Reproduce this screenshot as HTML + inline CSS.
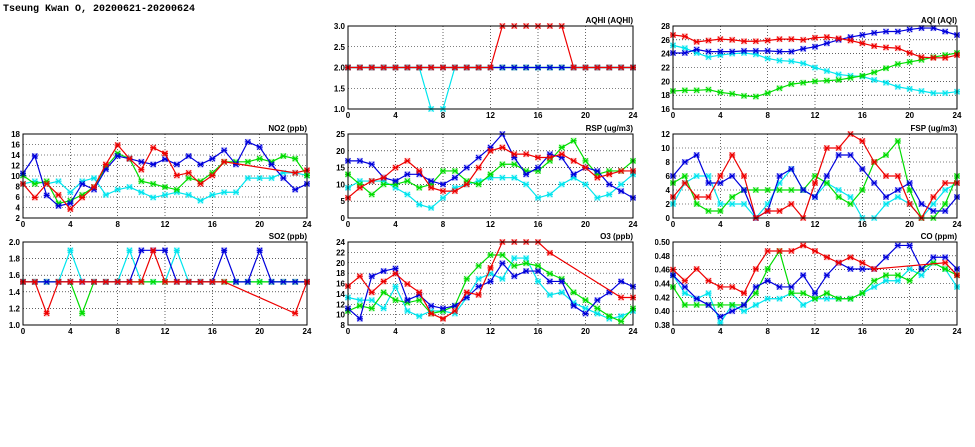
<!DOCTYPE html>
<html><head><meta charset="utf-8"><style>
html,body{margin:0;padding:0;background:#fff;width:975px;height:447px;overflow:hidden}
svg{display:block}
text{font-family:"Liberation Sans",sans-serif;font-weight:bold;font-size:8px;fill:#000}
</style></head><body>
<svg id="c" width="975" height="447" viewBox="0 0 975 447" xmlns="http://www.w3.org/2000/svg">
<defs><clipPath id="coclip"><rect x="655" y="0" width="320" height="447"/></clipPath></defs>
<text x="3" y="11" style="font-family:'Liberation Mono',monospace;font-size:10px">Tseung Kwan O, 20200621-20200624</text>
</svg>
<script>
const hours=[0,1,2,3,4,5,6,7,8,9,10,11,12,13,14,15,16,17,18,19,20,21,22,23,24];
const xTicks=[0,4,8,12,16,20,24];
const seriesColors=['#00e5ee','#00dd00','#0000dd','#ee0000'];
const N=null;
// AQHI
const aqhiCyan=[2,2,2,2,2,2,2,1,1,2,2,2,2,2,2,2,2,2,2,2,2,2,2,2,2];
const aqhiGreen=[2,2,2,2,2,2,2,2,2,2,2,2,2,2,2,2,2,2,2,2,2,2,2,2,2];
const aqhiBlue=[2,2,2,2,2,2,2,2,2,2,2,2,2,2,2,2,2,2,2,2,2,2,2,2,2];
const aqhiRed=[2,2,2,2,2,2,2,2,2,2,2,2,2,3,3,3,3,3,3,2,2,2,2,2,2];
const aqhiTicks=['1.0','1.5','2.0','2.5','3.0'];
// AQI
const aqiCyan=[25.2,24.8,24.1,23.5,23.8,24.0,24.1,23.9,23.3,23.0,22.9,22.6,22.0,21.5,21.0,20.8,20.7,20.2,19.8,19.2,18.9,18.6,18.3,18.3,18.5];
const aqiGreen=[18.6,18.7,18.7,18.8,18.4,18.2,17.9,17.8,18.3,19.0,19.6,19.8,20.0,20.1,20.2,20.5,20.8,21.3,21.9,22.5,22.8,23.1,23.5,23.8,24.1];
const aqiBlue=[24.1,24.1,24.6,24.3,24.3,24.3,24.4,24.4,24.4,24.3,24.3,24.7,25.0,25.5,26.0,26.4,26.7,27.0,27.2,27.2,27.5,27.7,27.7,27.2,26.7];
const aqiRed=[26.7,26.5,25.7,25.9,26.1,26.0,25.8,25.8,25.9,26.1,26.1,26.0,26.3,26.4,26.2,25.9,25.5,25.1,24.9,24.8,24.1,23.5,23.4,23.4,23.8];
const aqiTicks=['16','18','20','22','24','26','28'];
// NO2
const no2Cyan=[8.5,9.0,8.5,9.0,6.9,9.0,9.6,6.4,7.4,7.9,6.9,5.9,6.4,6.9,6.4,5.3,6.4,6.9,6.9,9.6,9.6,9.6,10.6,10.6,10.1];
const no2Green=[10.1,8.5,9.0,4.8,5.3,6.4,7.9,11.7,14.3,13.3,9.0,8.5,7.9,7.4,9.6,9.0,10.6,12.7,12.7,12.7,13.3,12.7,13.8,13.3,10.1];
const no2Blue=[10.5,13.8,6.3,4.3,4.8,8.5,7.4,11.3,13.8,13.3,12.7,12.2,13.2,12.2,13.8,12.2,13.3,14.9,12.2,16.5,15.5,12.2,9.6,7.4,8.5];
const no2Red=[8.5,5.9,8.5,6.4,3.7,5.9,7.9,12.2,15.9,13.3,11.2,15.4,14.3,10.1,10.6,8.5,10.1,12.7,N,N,N,N,N,10.6,11.1];
const no2Ticks=['2','4','6','8','10','12','14','16','18'];
// RSP
const rspCyan=[9,11,11,11,9,7,4,3,6,9,10,11,12,12,12,10,6,7,10,12,10,6,7,10,13];
const rspGreen=[13,10,7,10,10,11,9,10,14,14,11,10,13,16,16,14,14,17,21,23,17,13,14,14,17];
const rspBlue=[17,17,16,12,11,13,13,11,10,12,15,18,21,25,18,13,15,19,18,13,15,14,10,8,6];
const rspRed=[6,9,11,12,15,17,14,9,8,8,10,15,20,21,19,19,18,18,19,17,15,12,13,14,14];
const rspTicks=['0','5','10','15','20','25'];
// FSP
const fspCyan=[2,5,6,6,2,2,2,0,2,5,7,4,3,5,4,3,0,0,2,3,2,0,2,4,5];
const fspGreen=[5,6,2,1,1,3,4,4,4,4,4,4,6,5,3,2,4,8,9,11,4,0,0,2,6];
const fspBlue=[6,8,9,5,5,6,4,0,1,6,7,4,3,6,9,9,7,5,3,4,5,2,1,1,3];
const fspRed=[3,5,3,3,6,9,6,0,1,1,2,0,5,10,10,12,11,8,6,6,2,0,3,5,5];
const fspTicks=['0','2','4','6','8','10','12'];
// SO2
const so2Cyan=[1.52,1.52,1.52,1.52,1.9,1.52,1.52,1.52,1.52,1.9,1.52,1.52,1.52,1.9,1.52,1.52,1.52,1.52,1.52,1.52,1.52,1.52,1.52,1.52,1.52];
const so2Green=[1.52,1.52,1.52,1.52,1.52,1.14,1.52,1.52,1.52,1.52,1.52,1.52,1.52,1.52,1.52,1.52,1.52,1.52,1.52,1.52,1.52,1.52,1.52,1.52,1.52];
const so2Blue=[1.52,1.52,1.52,1.52,1.52,1.52,1.52,1.52,1.52,1.52,1.9,1.9,1.9,1.52,1.52,1.52,1.52,1.9,1.52,1.52,1.9,1.52,1.52,1.52,1.52];
const so2Red=[1.52,1.52,1.14,1.52,1.52,1.52,1.52,1.52,1.52,1.52,1.52,1.9,1.52,1.52,1.52,1.52,1.52,1.52,N,N,N,N,N,1.14,1.52];
const so2Ticks=['1.0','1.2','1.4','1.6','1.8','2.0'];
// O3
const o3Cyan=[13.3,12.8,12.8,11.2,15.4,10.7,9.7,10.7,10.7,10.2,13.3,16.9,17.9,16.9,20.9,20.9,16.4,13.8,14.3,12.3,11.2,10.2,9.2,9.7,10.7];
const o3Green=[10.7,11.7,11.2,14.3,12.8,12.3,12.8,10.2,10.7,11.7,16.9,19.4,21.5,21.5,19.4,19.9,19.4,17.9,16.9,14.3,12.8,11.2,9.7,8.7,11.2];
const o3Blue=[11.2,9.2,17.4,18.4,18.9,12.8,13.8,11.7,11.2,11.7,13.3,15.4,16.4,19.9,17.4,18.4,18.4,16.4,16.4,11.7,10.2,12.8,14.3,16.4,15.4];
const o3Red=[15.5,17.4,14.3,16.4,17.9,15.9,14.3,10.2,9.2,10.7,14.3,13.8,19.0,24,24,24,24,21.9,N,N,N,N,N,13.3,13.3];
const o3Ticks=['8','10','12','14','16','18','20','22','24'];
// CO
const coCyan=[.452,.426,.418,.426,.383,.409,.40,.409,.418,.418,.426,.409,.418,.418,.418,.418,.426,.435,.444,.444,.461,.452,.47,.461,.435];
const coGreen=[.435,.409,.409,.409,.409,.409,.409,.426,.461,.487,.426,.426,.418,.426,.418,.418,.426,.444,.452,.452,.444,.461,.47,.461,.452];
const coBlue=[.452,.435,.418,.409,.392,.40,.409,.435,.444,.435,.435,.452,.426,.452,.47,.461,.461,.461,.478,.495,.495,.461,.478,.478,.461];
const coRed=[.46,.444,.461,.444,.435,.435,.426,.461,.487,.487,.487,.495,.487,.478,.47,.478,.47,.461,N,N,N,N,N,.47,.452];
const coTicks=['0.38','0.40','0.42','0.44','0.46','0.48','0.50'];

const panels=[
 {name:'aqhi',title:'AQHI (AQHI)',x0:348,x1:633,y0:26,y1:109,ticks:aqhiTicks,s:[aqhiCyan,aqhiGreen,aqhiBlue,aqhiRed]},
 {name:'aqi',title:'AQI (AQI)',x0:673,x1:957,y0:26,y1:109,ticks:aqiTicks,s:[aqiCyan,aqiGreen,aqiBlue,aqiRed]},
 {name:'no2',title:'NO2 (ppb)',x0:23,x1:307,y0:134,y1:218,ticks:no2Ticks,s:[no2Cyan,no2Green,no2Blue,no2Red]},
 {name:'rsp',title:'RSP (ug/m3)',x0:348,x1:633,y0:134,y1:218,ticks:rspTicks,s:[rspCyan,rspGreen,rspBlue,rspRed]},
 {name:'fsp',title:'FSP (ug/m3)',x0:673,x1:957,y0:134,y1:218,ticks:fspTicks,s:[fspCyan,fspGreen,fspBlue,fspRed]},
 {name:'so2',title:'SO2 (ppb)',x0:23,x1:307,y0:242,y1:325,ticks:so2Ticks,s:[so2Cyan,so2Green,so2Blue,so2Red]},
 {name:'o3',title:'O3 (ppb)',x0:348,x1:633,y0:242,y1:325,ticks:o3Ticks,s:[o3Cyan,o3Green,o3Blue,o3Red]},
 {name:'co',title:'CO (ppm)',x0:673,x1:957,y0:242,y1:325,ticks:coTicks,s:[coCyan,coGreen,coBlue,coRed],clip:true}
];
const svg=document.getElementById('c');
const NS='http://www.w3.org/2000/svg';
function mk(tag,attrs,parent){const e=document.createElementNS(NS,tag);for(const k in attrs)e.setAttribute(k,attrs[k]);parent.appendChild(e);return e;}
panels.forEach(p=>{
 const g=mk('g',{},svg);
 
 
 if(p.clip)g.setAttribute('clip-path','url(#coclip)');
 const ymin=parseFloat(p.ticks[0]),ymax=parseFloat(p.ticks[p.ticks.length-1]);
 const sx=v=>p.x0+(v-hours[0])/(hours[hours.length-1]-hours[0])*(p.x1-p.x0);
 const sy=v=>p.y1-(v-ymin)/(ymax-ymin)*(p.y1-p.y0);
 p.ticks.forEach(t=>{const y=sy(parseFloat(t));
  const l=mk('line',{x1:p.x0,x2:p.x1,y1:y,y2:y,stroke:'#000','stroke-width':0.6,'stroke-dasharray':'1,2'},g);
  
  
  const tx=mk('text',{x:p.x0-3,y:y+3,'text-anchor':'end'},g);tx.textContent=t;
  
  
 });
 xTicks.forEach(t=>{const x=sx(t);
  const l=mk('line',{x1:x,x2:x,y1:p.y0,y2:p.y1,stroke:'#000','stroke-width':0.6,'stroke-dasharray':'1,2'},g);
  
  
  const tx=mk('text',{x:x,y:p.y1+9,'text-anchor':'middle'},g);tx.textContent=t;
  
  
 });
 p.s.forEach((arr,si)=>{
  const col=seriesColors[si];
  const pts=[];arr.forEach((v,i)=>{if(v!==null)pts.push([sx(hours[i]),sy(Math.min(Math.max(v,ymin),ymax))]);});
  const pl=mk('polyline',{points:pts.map(q=>q.join(',')).join(' '),fill:'none',stroke:col,'stroke-width':1.2},g);
  
  
  pts.forEach(q=>{
   const b=mk('rect',{x:q[0]-3,y:q[1]-3,width:6,height:6,fill:col,'fill-opacity':0.25,stroke:'none'},g);
   
   
   const m=mk('path',{d:`M${q[0]-2.5},${q[1]-2.5}L${q[0]+2.5},${q[1]+2.5}M${q[0]-2.5},${q[1]+2.5}L${q[0]+2.5},${q[1]-2.5}M${q[0]-3},${q[1]}L${q[0]+3},${q[1]}`,stroke:col,'stroke-width':1.1,fill:'none'},g);
   
   
  });
 });
 const fr=mk('rect',{x:p.x0,y:p.y0,width:p.x1-p.x0,height:p.y1-p.y0,fill:'none',stroke:'#000','stroke-width':1},g);
 
 
 const tt=mk('text',{x:p.x1,y:p.y0-3,'text-anchor':'end'},g);tt.textContent=p.title;
 
 
});
</script>
</body></html>
